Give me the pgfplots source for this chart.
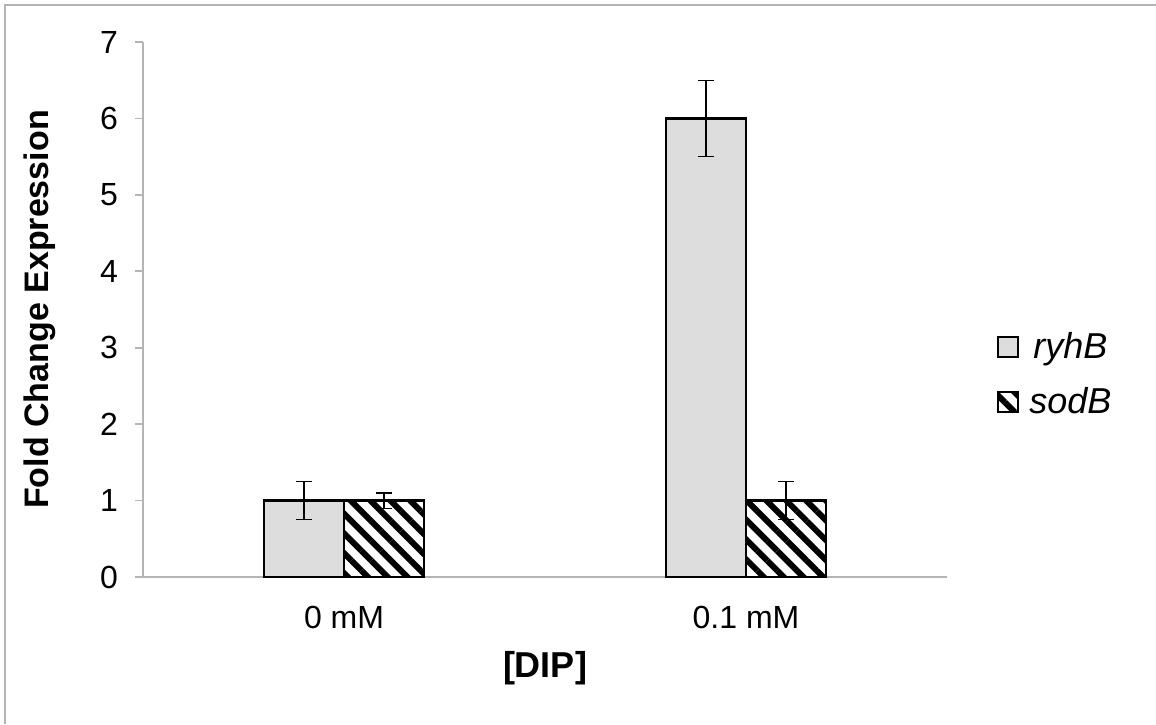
\documentclass[border=0pt]{standalone}
\usepackage{fontspec}
\setmainfont{Liberation Sans}
\usepackage{pgfplots}
\pgfplotsset{compat=1.18}
\usetikzlibrary{patterns.meta}
\definecolor{ryh}{RGB}{221,221,221}
\definecolor{axgray}{RGB}{180,180,180}
\begin{document}
\begin{tikzpicture}
\useasboundingbox (0,0) rectangle (578pt,-362pt);
\draw[axgray, line width=0.8pt] (2.5pt,-362pt) -- (2.5pt,-2.5pt) -- (578pt,-2.5pt);
\begin{axis}[
  at={(71.5pt,-288.5pt)}, anchor=south west,
  scale only axis, width=402pt, height=267.5pt,
  xmin=-0.5, xmax=1.5, ymin=0, ymax=7,
  ybar=0pt, bar width=40pt,
  xtick={0,1}, xticklabels={0 mM, 0.1 mM},
  xtick style={draw=none},
  ytick={0,1,...,7},
  axis x line*=bottom, axis y line*=left,
  axis line style={-, axgray, line width=0.8pt},
  tick align=outside, major tick length=4pt,
  ytick style={axgray, line width=0.8pt},
  tick label style={font=\fontsize{16}{19}\selectfont},
  /pgf/number format/assume math mode=true,
  xticklabel style={anchor=center, yshift=-16pt},
  yticklabel style={anchor=east, xshift=-5pt},
  xlabel={[DIP]}, ylabel={Fold Change Expression},
  xlabel style={font=\fontsize{18}{21}\selectfont\bfseries,
    at={(axis description cs:0.5,0)}, anchor=center, yshift=-45.5pt},
  ylabel style={font=\fontsize{17}{20}\selectfont\bfseries,
    at={(axis description cs:0,0.5)}, anchor=center, yshift=51.5pt},
  legend style={draw=none, fill=none, at={(1,0.378)}, anchor=west, xshift=22pt,
    font=\fontsize{18}{21}\selectfont\itshape, row sep=9pt},
  legend image code/.code={\draw[#1, line width=0.9pt] (0pt,-5pt) rectangle (10pt,5pt);
    \path (13pt,0pt);},
  error bars/y dir=both, error bars/y explicit,
  error bars/error mark options={rotate=90, mark size=4pt, line width=0.6pt, black},
  error bars/error bar style={line width=0.6pt, black},
]
\addplot[fill=ryh, draw=black, line width=1.1pt]
  coordinates {(0,1) +- (0,0.25) (1,6) +- (0,0.5)};
\addlegendentry{ryhB}
\addplot[draw=black, line width=1.1pt, fill=white,
  postaction={pattern={Lines[angle=-45,distance=7pt,line width=3pt]}, pattern color=black}]
  coordinates {(0,1) +- (0,0.1) (1,1) +- (0,0.25)};
\addlegendentry{sodB}
\end{axis}
\end{tikzpicture}
\end{document}
